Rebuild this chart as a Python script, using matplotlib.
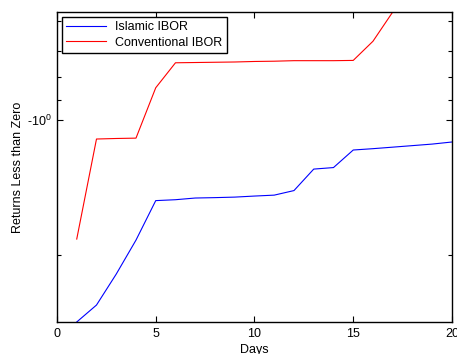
import numpy as np
import matplotlib
matplotlib.use('Agg')
import matplotlib.pyplot as plt
from matplotlib.ticker import FixedLocator, FixedFormatter, NullFormatter

plt.rcParams['font.family'] = ['Liberation Sans', 'DejaVu Sans']
plt.rcParams['mathtext.fontset'] = 'custom'
plt.rcParams['mathtext.rm'] = 'Liberation Sans'
plt.rcParams['mathtext.it'] = 'Liberation Sans'

days = np.arange(1, 21)
islamic = [-2.82, -2.585, -2.205, -1.852, -1.512, -1.505, -1.492, -1.489, -1.485, -1.477,
           -1.470, -1.436, -1.286, -1.276, -1.166, -1.158, -1.149, -1.140, -1.131, -1.119]
conventional = [-1.842, -1.102, -1.099, -1.097, -0.847, -0.745, -0.744, -0.743, -0.742, -0.740,
                -0.739, -0.737, -0.737, -0.737, -0.736, -0.667, -0.574, -0.574, -0.574, -0.574]

fig = plt.figure(figsize=(4.57, 3.54), dpi=100)
ax = fig.add_axes([0.1247, 0.0904, 0.8643, 0.8757])

# negative values on a log axis: plot magnitudes, flip the axis
ax.plot(days, -np.array(islamic), color='#0000ff', lw=0.8, label='Islamic IBOR')
ax.plot(days, -np.array(conventional), color='#ff0000', lw=0.8, label='Conventional IBOR')

ax.set_yscale('log')
ax.set_ylim(2.82, 0.574)
ax.set_xlim(0, 20)
ax.set_xticks([0, 5, 10, 15, 20])

ax.yaxis.set_major_locator(FixedLocator([1.0]))
ax.yaxis.set_major_formatter(FixedFormatter([r'-$10^{0}$']))
ax.yaxis.set_minor_locator(FixedLocator([0.6, 0.7, 0.8, 0.9, 2.0]))
ax.yaxis.set_minor_formatter(NullFormatter())

ax.tick_params(which='both', direction='in', top=True, right=True, labelsize=9, width=0.8)
ax.tick_params(which='major', length=4, pad=4)
ax.tick_params(which='minor', length=3)
for s in ax.spines.values():
    s.set_linewidth(1.0)

ax.set_xlabel('Days', fontsize=9, labelpad=3)
ax.set_ylabel('Returns Less than Zero', fontsize=9, labelpad=2)

leg = ax.legend(loc='upper left', fontsize=9, handlelength=3.2, fancybox=False,
                edgecolor='black', framealpha=1, borderaxespad=0.4, labelspacing=0.25,
                handletextpad=0.7, borderpad=0.35)
leg.get_frame().set_linewidth(1.0)

plt.savefig('out.png', dpi=100)
